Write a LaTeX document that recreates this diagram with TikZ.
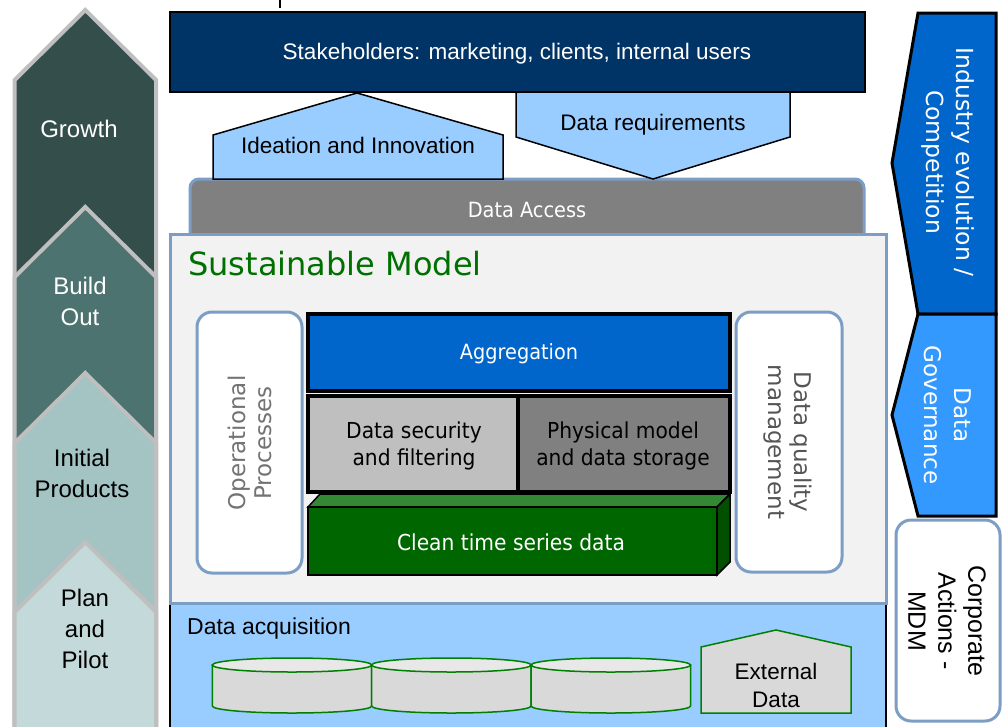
\documentclass[tikz,border=0pt]{standalone}
\usepackage{fontspec}
\setmainfont{Liberation Sans}
\newfontfamily\dv{DejaVu Sans}
\newfontfamily\dvc[FakeStretch=0.92]{DejaVu Sans}
\newcommand\fsz[2]{\fontsize{#1}{#2}\selectfont}
\definecolor{cGrowth}{RGB}{52,78,75}
\definecolor{cBuild}{RGB}{77,115,112}
\definecolor{cInit}{RGB}{164,196,196}
\definecolor{cPlan}{RGB}{196,218,218}
\definecolor{cBord}{RGB}{191,191,191}
\definecolor{cNavy}{RGB}{0,51,102}
\definecolor{cLBlue}{RGB}{153,204,255}
\definecolor{cSteel}{RGB}{124,157,196}
\definecolor{cPanel}{RGB}{242,242,242}
\definecolor{cTitle}{RGB}{0,112,0}
\definecolor{cAgg}{RGB}{0,102,204}
\definecolor{cSec}{RGB}{191,191,191}
\definecolor{cPhys}{RGB}{128,128,128}
\definecolor{cGrnF}{RGB}{0,102,0}
\definecolor{cGrnT}{RGB}{51,136,51}
\definecolor{cGrnS}{RGB}{0,80,0}
\definecolor{cCyl}{RGB}{217,217,217}
\definecolor{cCylT}{RGB}{232,232,232}
\definecolor{cCylL}{RGB}{0,128,0}
\definecolor{cGov}{RGB}{51,153,255}
\definecolor{cOpTxt}{RGB}{115,115,115}
\definecolor{cDqTxt}{RGB}{85,85,85}
\begin{document}
\begin{tikzpicture}[x=1pt,y=-1pt,
  lbl/.style={inner sep=0pt, align=center},
  chev/.style={line width=4pt, draw=cBord, line join=miter},
  blk/.style={draw=black, line width=1.5pt, line join=miter},
  steelbox/.style={draw=cSteel, line width=3pt},
  softbox/.style={draw=cSteel, line width=3pt, fill=white, rounded corners=15pt},
  stackbox/.style={draw=black, line width=4pt},
  cylline/.style={draw=cCylL, line width=1.5pt},
  dir/.style={draw=black, line width=3pt, line join=miter}]
\useasboundingbox (0,0) rectangle (1006,726);
\fill[white] (0,0) rectangle (1006,726);

% small fragment at top
\draw[line width=1.5pt] (280,0) -- (280,8);

% left column chevrons
\foreach \a/\c in {10/cGrowth, 207/cBuild, 373/cInit, 542/cPlan}{
  \draw[chev, fill=\c] (14.7,\a+70) -- (85.3,\a) -- (156,\a+70) -- (156,740) -- (14.7,740) -- cycle;
}
\node[lbl, text=white, font=\fsz{24}{31}] (growth) at (79,129) {Growth};
\node[lbl, text=white, font=\fsz{24}{31}] (build) at (80,301) {Build\\Out};
\node[lbl, text=black, font=\fsz{24}{31}] (initial) at (82,473) {Initial\\Products};
\node[lbl, text=black, font=\fsz{24}{31}] (plan) at (85,629) {Plan\\and\\Pilot};

% stakeholders
\draw[draw=black, line width=2pt, fill=cNavy] (170,12) rectangle (865,92);
\node[lbl, text=white, font=\fsz{22.5}{27}] (stk) at (517,54) {Stakeholders: marketing, clients, internal users};

% data access
\draw[steelbox, fill=cPhys, rounded corners=9pt] (190,179) rectangle (864,255);
\node[lbl, text=white, font={\fsz{21}{26}\dvc}] (access) at (527,210) {Data Access};

% ideation and requirements
\draw[blk, fill=cLBlue] (213,179) -- (213,135) -- (357,93) -- (503,135) -- (503,179) -- cycle;
\node[lbl, font=\fsz{22.5}{27}] (idea) at (358,145) {Ideation and Innovation};
\draw[blk, fill=cLBlue] (516,92) -- (790,92) -- (790,137) -- (653,179) -- (516,137) -- cycle;
\node[lbl, font=\fsz{22.5}{27}] (req) at (653,125) {Data requirements};

% data acquisition
\draw[draw=black, line width=2pt, fill=cLBlue] (170,603) rectangle (886,745);
\node[lbl, anchor=west, font=\fsz{23}{28}] (acq) at (187,629) {Data acquisition};
\foreach \cx in {292,451.4,610.8}{
  \draw[cylline, fill=cCyl] (\cx-79.7,665) -- (\cx-79.7,706)
     arc[start angle=180, end angle=360, x radius=79.7pt, y radius=7pt] -- (\cx+79.7,665) -- cycle;
  \draw[cylline, fill=cCylT] (\cx,665) ellipse [x radius=79.7pt, y radius=7pt];
}
\draw[cylline, fill=cCyl, line join=miter] (701,713) -- (701,647) -- (776,630) -- (851,647) -- (851,713) -- cycle;
\node[lbl, font=\fsz{22.5}{28}] (ext) at (776,685) {External\\Data};

% sustainable model panel
\draw[steelbox, fill=cPanel] (170,234) rectangle (886,603);
\node[lbl, anchor=base west, text=cTitle, font={\fsz{32}{38}\dv}] (title) at (188,275) {Sustainable Model};

% side rounded boxes
\draw[softbox] (197,312) rectangle (302,573);
\node[lbl, rotate=90, text=cOpTxt, font={\fsz{23}{26}\dv}] (oper) at (250,443) {Operational\\Processes};
\draw[softbox] (736,312) rectangle (842,572);
\node[lbl, rotate=-90, text=cDqTxt, font={\fsz{23}{26}\dv}] (dqm) at (788,442) {Data quality\\management};

% clean time series data (3D bar)
\draw[blk, fill=cGrnT] (308,507) -- (320,494) -- (730,494) -- (717,507) -- cycle;
\draw[blk, fill=cGrnS] (717,507) -- (730,494) -- (730,562) -- (717,575) -- cycle;
\draw[blk, fill=cGrnF] (308,507) rectangle (717,575);
\node[lbl, text=white, font={\fsz{22}{26}\dvc}] (clean) at (511,542) {Clean time series data};

% stack
\draw[stackbox, fill=cAgg] (308,314) rectangle (730,391);
\node[lbl, text=white, font={\fsz{21}{26}\dvc}] (agg) at (519,354) {Aggregation};
\draw[stackbox, fill=cSec] (308,396) rectangle (518,492);
\node[lbl, font={\fsz{22}{27.3}\dvc}] (sec) at (414,446) {Data security\\and filtering};
\draw[stackbox, fill=cPhys] (518,396) rectangle (730,492);
\node[lbl, font={\fsz{22}{27.3}\dvc}] (phys) at (623,446) {Physical model\\and data storage};

% right column
\draw[dir, fill=cAgg] (918,13) -- (996,13) -- (996,314) -- (918,314) -- (892,163) -- cycle;
\node[lbl, rotate=-90, text=white, font={\fsz{23.5}{30}\dv}] (ind) at (948,162) {Industry evolution /\\Competition};
\draw[dir, fill=cGov] (918,314) -- (996,314) -- (996,516) -- (918,516) -- (892,415) -- cycle;
\node[lbl, rotate=-90, text=white, font={\fsz{23}{30}\dv}] (gov) at (948,415) {Data\\Governance};
\draw[softbox] (896,520) rectangle (1000,721);
\node[lbl, rotate=-90, font=\fsz{25}{30}] (corp) at (947,621) {Corporate\\Actions -\\MDM};
\end{tikzpicture}
\end{document}
